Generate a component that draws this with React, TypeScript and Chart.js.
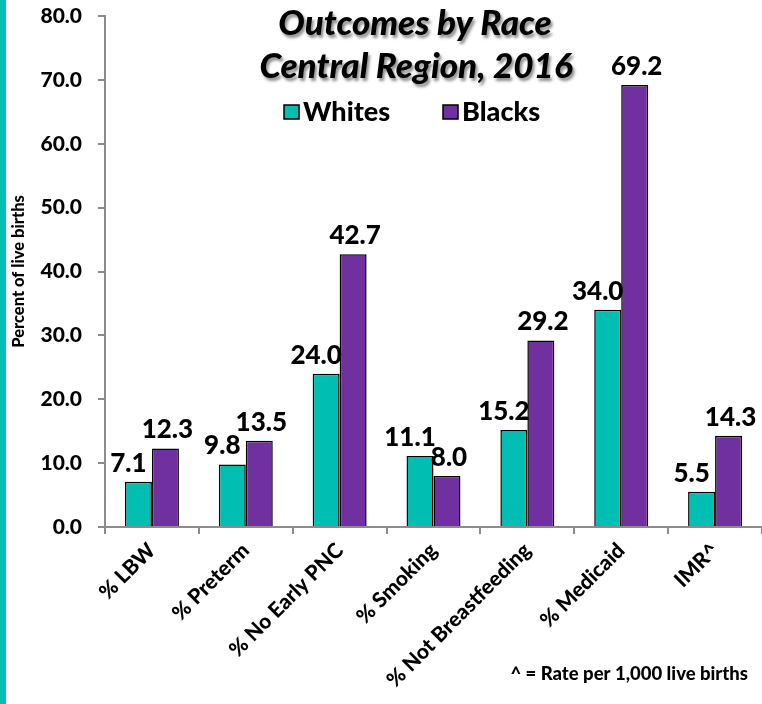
import React, { useEffect, useRef } from "react";
import { Chart, registerables } from "chart.js";

Chart.register(...registerables);

const categories = ["% LBW", "% Preterm", "% No Early PNC", "% Smoking", "% Not Breastfeeding", "% Medicaid", "IMR^"];
const whites = [7.1, 9.8, 24.0, 11.1, 15.2, 34.0, 5.5];
const blacks = [12.3, 13.5, 42.7, 8.0, 29.2, 69.2, 14.3];
const seriesNames = ["Whites", "Blacks"];
const seriesColors = ["#00BFB2", "#7030A0"];
const titleLines = ["Outcomes by Race", "Central Region, 2016"];
const yAxisTitle = "Percent of live births";
const footnote = "^ = Rate per 1,000 live births";
const yMin = 0;
const yMax = 80;
const yStep = 10;

const FONT = "Lato, 'Open Sans', sans-serif";
const W = "900";

const decorPlugin = {
  id: "decor",
  beforeDraw(chart: any) {
    const ctx = chart.ctx;
    ctx.save();
    ctx.fillStyle = "#ffffff";
    ctx.fillRect(0, 0, chart.width, chart.height);
    ctx.fillStyle = "#00BFB2";
    ctx.fillRect(0, 0, 6, chart.height);
    ctx.restore();
  },
  afterDatasetsDraw(chart: any) {
    const ctx = chart.ctx;
    ctx.save();
    ctx.font = `${W} 26px ${FONT}`;
    ctx.fillStyle = "#000";
    ctx.textAlign = "center";
    ctx.textBaseline = "alphabetic";
    chart.data.datasets.forEach((ds: any, di: number) => {
      const meta = chart.getDatasetMeta(di);
      meta.data.forEach((el: any, i: number) => {
        const v = ds.data[i] as number;
        const dx = di === 0 ? -10 : 2;
        ctx.fillText(v.toFixed(1), el.x + dx, el.y - 10);
      });
    });
    ctx.restore();
  },
  afterDraw(chart: any) {
    const ctx = chart.ctx;
    ctx.save();
    // Title with shadow
    ctx.font = `italic ${W} 35px ${FONT}`;
    ctx.textAlign = "center";
    ctx.textBaseline = "alphabetic";
    ctx.shadowColor = "rgba(0,0,0,0.45)";
    ctx.shadowOffsetX = 2;
    ctx.shadowOffsetY = 3;
    ctx.shadowBlur = 3;
    ctx.fillStyle = "#000";
    ctx.fillText(titleLines[0], 415, 35);
    ctx.fillText(titleLines[1], 416, 78);
    ctx.shadowColor = "transparent";
    ctx.shadowBlur = 0;
    ctx.shadowOffsetX = 0;
    ctx.shadowOffsetY = 0;

    // Legend
    ctx.font = `${W} 27px ${FONT}`;
    ctx.textAlign = "left";
    const legendX = [284, 443];
    chart.data.datasets.forEach((ds: any, di: number) => {
      const x = legendX[di];
      ctx.fillStyle = ds.backgroundColor;
      ctx.fillRect(x, 105, 15, 14);
      ctx.strokeStyle = "#000";
      ctx.lineWidth = 1.5;
      ctx.strokeRect(x, 105, 15, 14);
      ctx.fillStyle = "#000";
      ctx.fillText(ds.label, x + 19, 121);
    });

    // Footnote
    ctx.font = `${W} 18.5px ${FONT}`;
    ctx.textAlign = "right";
    ctx.fillText(footnote, 748, 680);
    ctx.restore();
  },
};

export default function App() {
  const ref = useRef<HTMLCanvasElement | null>(null);

  useEffect(() => {
    if (!ref.current) return;
    const chart = new Chart(ref.current, {
      type: "bar",
      data: {
        labels: categories,
        datasets: [
          {
            label: seriesNames[0],
            data: whites,
            backgroundColor: seriesColors[0],
            borderColor: "#000",
            borderWidth: 1.5,
            categoryPercentage: 0.575,
            barPercentage: 1,
          },
          {
            label: seriesNames[1],
            data: blacks,
            backgroundColor: seriesColors[1],
            borderColor: "#000",
            borderWidth: 1.5,
            categoryPercentage: 0.575,
            barPercentage: 1,
          },
        ],
      },
      options: {
        animation: false,
        responsive: true,
        maintainAspectRatio: false,
        layout: { padding: { top: 16, right: 0, left: 0, bottom: 0 } },
        plugins: {
          legend: { display: false },
          title: { display: false },
          tooltip: { enabled: false },
        },
        scales: {
          x: {
            grid: { drawOnChartArea: false, drawTicks: true, tickLength: 7, color: "#8c8c8c", lineWidth: 2, offset: true },
            border: { color: "#8c8c8c", width: 2 },
            ticks: {
              color: "#000",
              font: { family: FONT, size: 21, weight: W as any },
              minRotation: 45,
              maxRotation: 45,
              autoSkip: false,
              padding: 4,
            },
            afterFit: (scale: any) => {
              scale.height = 177;
              scale.paddingTop = 0;
              scale.paddingRight = 0;
              scale.paddingLeft = 0;
            },
          },
          y: {
            min: yMin,
            max: yMax,
            grid: { drawOnChartArea: false, drawTicks: true, tickLength: 7, color: "#8c8c8c", lineWidth: 2 },
            border: { color: "#8c8c8c", width: 2 },
            ticks: {
              stepSize: yStep,
              color: "#000",
              font: { family: FONT, size: 21, weight: W as any },
              padding: 16,
              callback: (v: any) => Number(v).toFixed(1),
            },
            title: {
              display: true,
              text: yAxisTitle,
              color: "#000",
              font: { family: FONT, size: 16.5, weight: W as any },
              padding: { top: 9, bottom: 0 },
            },
            afterFit: (scale: any) => {
              scale.width = 105;
              scale.paddingTop = 0;
              scale.paddingBottom = 0;
            },
          },
        },
      },
      plugins: [decorPlugin],
    });
    return () => chart.destroy();
  }, []);

  return (
    <div style={{ position: "absolute", left: 0, top: 0, width: 762, height: 704 }}>
      <canvas ref={ref} />
    </div>
  );
}
